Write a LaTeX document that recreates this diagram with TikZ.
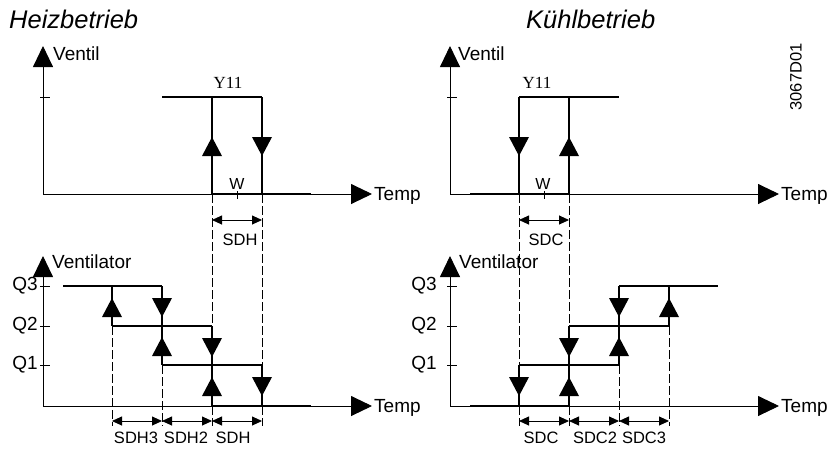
\documentclass[tikz,border=0pt]{standalone}
\usepackage{fontspec}
\setmainfont{Liberation Sans}
\newfontfamily\serifY{Liberation Serif}
\usetikzlibrary{arrows.meta}
\begin{document}
\begin{tikzpicture}[x=1pt,y=-1pt,
  axis/.style={line width=0.9pt,-{Triangle[length=21pt,width=20pt]}},
  curve/.style={line width=1.5pt},
  heavy/.style={line width=2.7pt},
  ext/.style={line width=0.8pt,dash pattern=on 9pt off 3pt},
  dim/.style={line width=0.9pt,{Triangle[length=10pt,width=9pt]}-{Triangle[length=10pt,width=9pt]}},
  tickmark/.style={line width=0.9pt},
  title/.style={font=\fontsize{25.5}{28}\selectfont\itshape, inner sep=0pt, anchor=base west},
  axlab/.style={font=\fontsize{19}{22}\selectfont, inner sep=0pt, anchor=base west},
  qlab/.style={font=\fontsize{19}{22}\selectfont, inner sep=0pt, anchor=east},
  dimlab/.style={font=\fontsize{16.5}{19}\selectfont, inner sep=0pt, anchor=base},
  ylab/.style={font=\fontsize{17}{20}\selectfont\serifY, inner sep=0pt, anchor=base},
  wlab/.style={font=\fontsize{16}{19}\selectfont, inner sep=0pt, anchor=base},
  uptri/.pic={\fill (0,0) -- (-10,19) -- (10,19) -- cycle;},
  dntri/.pic={\fill (0,0) -- (-10,-19) -- (10,-19) -- cycle;},
]
\useasboundingbox (0,0) rectangle (830,448);

% titles
\node[title] (th) at (9,28) {Heizbetrieb};
\node[title] (tk) at (526,28) {Kühlbetrieb};
\node[font=\fontsize{16.5}{19}\selectfont, inner sep=0pt, rotate=90] (code) at (796,77) {3067D01};

% ---------------- axes -----------------
\coordinate (o1) at (43,194);  \coordinate (y1) at (43,46);  \coordinate (x1) at (372,194);
\coordinate (o2) at (450,194); \coordinate (y2) at (450,46); \coordinate (x2) at (779,194);
\coordinate (o3) at (43,406);  \coordinate (y3) at (43,256); \coordinate (x3) at (372,406);
\coordinate (o4) at (450,406); \coordinate (y4) at (450,256);\coordinate (x4) at (779,406);
\draw[axis] (o1) -- (y1);
\draw[axis] (o1) -- (x1);
\draw[axis] (o2) -- (y2);
\draw[axis] (o2) -- (x2);
\draw[axis] (o3) -- (y3);
\draw[axis] (o3) -- (x3);
\draw[axis] (o4) -- (y4);
\draw[axis] (o4) -- (x4);

\node[axlab] (v1) at (53,60) {Ventil};
\node[axlab] (v2) at (458,60) {Ventil};
\node[axlab] (v3) at (52,268) {Ventilator};
\node[axlab] (v4) at (459,268) {Ventilator};
\node[axlab] (tp1) at (374,200) {Temp};
\node[axlab] (tp2) at (781,200) {Temp};
\node[axlab] (tp3) at (374,412) {Temp};
\node[axlab] (tp4) at (781,412) {Temp};

% ticks
\draw[tickmark] (40,97) -- (50,97);
\draw[tickmark] (447,97) -- (457,97);
\foreach \yy in {286,326,365}{
  \draw[tickmark] (40,\yy) -- (50,\yy);
  \draw[tickmark] (447,\yy) -- (457,\yy);
}
\node[qlab] (q3a) at (38,286) {Q3};
\node[qlab] (q2a) at (38,326) {Q2};
\node[qlab] (q1a) at (38,365) {Q1};
\node[qlab] (q3b) at (437,286) {Q3};
\node[qlab] (q2b) at (437,326) {Q2};
\node[qlab] (q1b) at (437,365) {Q1};

% ---------------- Heizbetrieb top -----------------
\draw[ext] (212,194) -- (212,326);
\draw[ext] (262,194) -- (262,365);
\draw[curve] (162,97) -- (262,97);
\draw[curve] (212,97) -- (212,194);
\draw[curve] (262,97) -- (262,194);
\draw[heavy] (212,194) -- (311,194);
\pic at (212,137) {uptri};
\pic at (262,156) {dntri};
\draw[tickmark] (237,191) -- (237,199);
\node[wlab] (w1) at (237,189) {W};
\node[ylab] (y11a) at (228,88) {Y11};
\draw[dim] (212,220) -- (262,220);
\node[dimlab] (sdhT) at (240,245) {SDH};

% ---------------- Heizbetrieb bottom -----------------
\draw[ext] (112,326) -- (112,426);
\draw[ext] (162,365) -- (162,426);
\draw[ext] (212,406) -- (212,426);
\draw[ext] (262,406) -- (262,426);
\draw[curve] (63,286) -- (162,286);
\draw[curve] (112,326) -- (212,326);
\draw[curve] (162,365) -- (262,365);
\draw[curve] (112,286) -- (112,326);
\draw[curve] (162,286) -- (162,365);
\draw[curve] (212,326) -- (212,406);
\draw[curve] (262,365) -- (262,406);
\draw[heavy] (212,406) -- (311,406);
\pic at (112,298) {uptri};
\pic at (162,317) {dntri};
\pic at (162,337) {uptri};
\pic at (212,357) {dntri};
\pic at (212,377) {uptri};
\pic at (262,396) {dntri};
\draw[dim] (112,421) -- (162,421);
\draw[dim] (162,421) -- (212,421);
\draw[dim] (212,421) -- (262,421);
\node[dimlab] (sdh3) at (136,443) {SDH3};
\node[dimlab] (sdh2) at (186,443) {SDH2};
\node[dimlab] (sdh) at (233,443) {SDH};

% ---------------- Kühlbetrieb top -----------------
\draw[ext] (519,194) -- (519,365);
\draw[ext] (569,194) -- (569,326);
\draw[curve] (519,97) -- (619,97);
\draw[curve] (519,97) -- (519,194);
\draw[curve] (569,97) -- (569,194);
\draw[heavy] (470,194) -- (569,194);
\pic at (519,156) {dntri};
\pic at (569,137) {uptri};
\draw[tickmark] (544,191) -- (544,199);
\node[wlab] (w2) at (543,189) {W};
\node[ylab] (y11b) at (537,88) {Y11};
\draw[dim] (519,220) -- (569,220);
\node[dimlab] (sdcT) at (546,245) {SDC};

% ---------------- Kühlbetrieb bottom -----------------
\draw[ext] (519,406) -- (519,426);
\draw[ext] (569,406) -- (569,426);
\draw[ext] (619,365) -- (619,426);
\draw[ext] (669,326) -- (669,426);
\draw[curve] (519,365) -- (619,365);
\draw[curve] (569,326) -- (669,326);
\draw[curve] (619,286) -- (718,286);
\draw[curve] (519,365) -- (519,406);
\draw[curve] (569,326) -- (569,406);
\draw[curve] (619,286) -- (619,365);
\draw[curve] (669,286) -- (669,326);
\draw[heavy] (470,406) -- (569,406);
\pic at (519,396) {dntri};
\pic at (569,357) {dntri};
\pic at (569,377) {uptri};
\pic at (619,317) {dntri};
\pic at (619,337) {uptri};
\pic at (669,298) {uptri};
\draw[dim] (519,421) -- (569,421);
\draw[dim] (569,421) -- (619,421);
\draw[dim] (619,421) -- (669,421);
\node[dimlab] (sdc) at (541,443) {SDC};
\node[dimlab] (sdc2) at (595,443) {SDC2};
\node[dimlab] (sdc3) at (644,443) {SDC3};
\end{tikzpicture}
\end{document}
